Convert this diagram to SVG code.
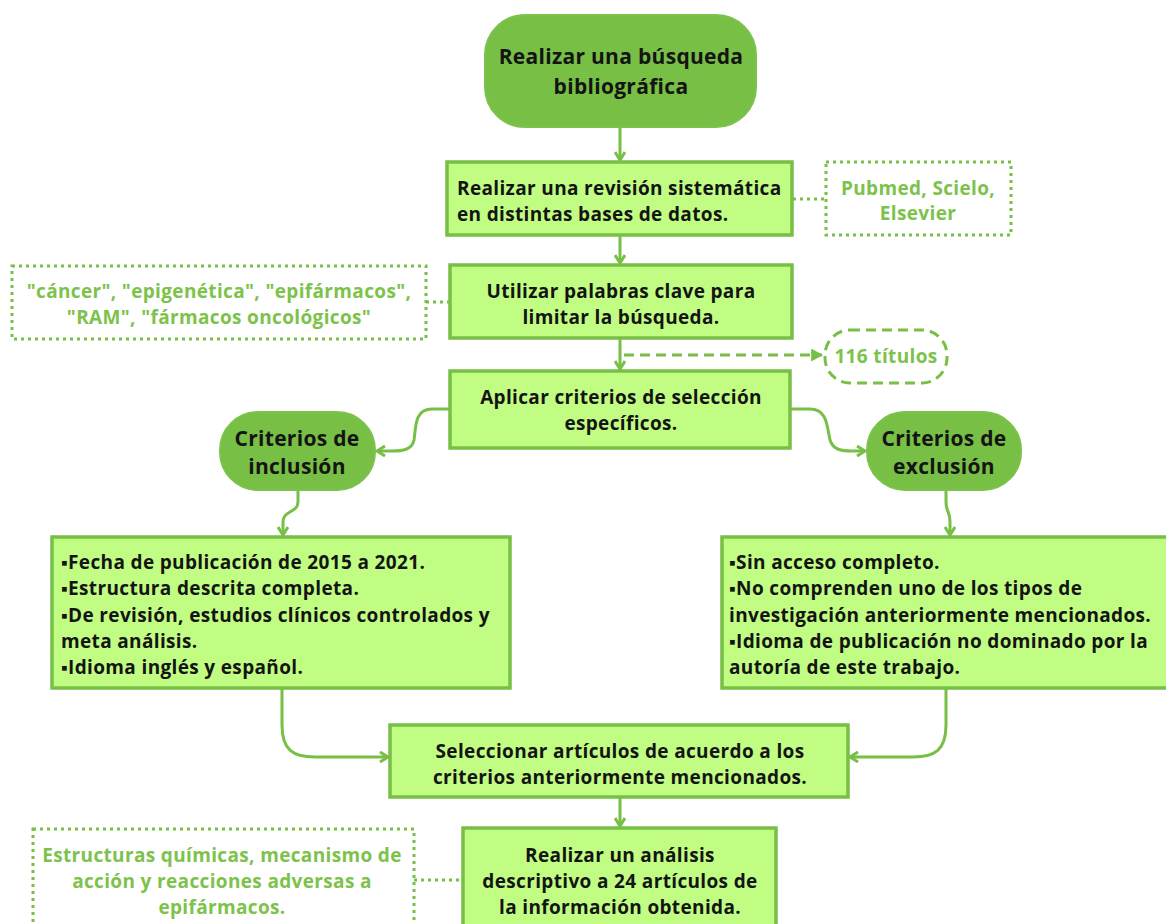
<svg xmlns="http://www.w3.org/2000/svg" width="1166" height="924" viewBox="0 0 1166 924">
<defs>
<style>
.dk{fill:#77bf45;stroke:#7cc24b;stroke-width:2}
.lt{fill:#c1fd82;stroke:#77bf45;stroke-width:3.5}
.dot{fill:#fff;stroke:#77bf45;stroke-width:3;stroke-dasharray:3 4}
.dash{fill:#fff;stroke:#77bf45;stroke-width:3;stroke-dasharray:10 6}
.t{font-family:"Open Sans","Liberation Sans",sans-serif;font-weight:700;fill:#141414;font-size:19px;letter-spacing:0.35px}
.h{font-family:"Open Sans","Liberation Sans",sans-serif;font-weight:700;fill:#141414;font-size:21px;letter-spacing:0.3px;text-anchor:middle}
.g{font-family:"Open Sans","Liberation Sans",sans-serif;font-weight:700;fill:#7cc24b;font-size:19px;letter-spacing:0.35px;text-anchor:middle}
.c{text-anchor:middle}
.ln{fill:none;stroke:#77bf45;stroke-width:3}
.ld{fill:none;stroke:#77bf45;stroke-width:3;stroke-dasharray:3 4}
.ldash{fill:none;stroke:#77bf45;stroke-width:3;stroke-dasharray:10 6}
</style>
<marker id="v" viewBox="0 0 12 12" refX="10" refY="6" markerWidth="12" markerHeight="12" markerUnits="userSpaceOnUse" orient="auto">
<path d="M2,1 L10,6 L2,11" fill="none" stroke="#77bf45" stroke-width="3"/>
</marker>
<marker id="tri" viewBox="0 0 12 12" refX="11" refY="6" markerWidth="13" markerHeight="13" markerUnits="userSpaceOnUse" orient="auto">
<path d="M1,0 L12,6 L1,12 Z" fill="#77bf45"/>
</marker>
</defs>
<rect width="1166" height="924" fill="#fff"/>

<g id="connectors">
<path class="ln" d="M620,127 L620,160" marker-end="url(#v)"/>
<path class="ln" d="M620,235 L620,263" marker-end="url(#v)"/>
<path class="ln" d="M620,338 L620,369" marker-end="url(#v)"/>
<path class="ldash" d="M624,355 L822,355" marker-end="url(#tri)"/>
<path class="ln" d="M450,409 L432,409 C414,409 416,428 414,440 C412,450 402,451 392,451 L377,451" marker-end="url(#v)"/>
<path class="ln" d="M790,409 L810,409 C828,409 827,428 830,440 C833,450 842,451 852,451 L865,451" marker-end="url(#v)"/>
<path class="ln" d="M298,490 L298,502 C298,513 283,510 283,522 L283,535" marker-end="url(#v)"/>
<path class="ln" d="M946,490 L946,502 C946,513 950,510 950,522 L950,535" marker-end="url(#v)"/>
<path class="ln" d="M282,688 L282,725 C282,750 293,757 315,757 L388,757" marker-end="url(#v)"/>
<path class="ln" d="M946,688 L946,725 C946,750 935,757 913,757 L850,757" marker-end="url(#v)"/>
<path class="ln" d="M620,797 L620,826" marker-end="url(#v)"/>
<path class="ld" d="M793,199 L826,199"/>
<path class="ld" d="M426,302 L449,302"/>
<path class="ld" d="M414,880 L463,880"/>
</g>

<g id="n-busqueda">
<rect class="dk" x="485" y="15" width="271" height="112" rx="40"/>
<text class="h" x="621" y="64">Realizar una búsqueda</text>
<text class="h" x="621" y="94">bibliográfica</text>
</g>

<g id="n-revision">
<rect class="lt" x="447" y="162" width="345" height="73"/>
<text class="t" x="457" y="195">Realizar una revisión sistemática</text>
<text class="t" x="457" y="221">en distintas bases de datos.</text>
</g>

<g id="n-bases">
<rect class="dot" x="826" y="162" width="185" height="73"/>
<text class="g" x="918" y="195">Pubmed, Scielo,</text>
<text class="g" x="918" y="220">Elsevier</text>
</g>

<g id="n-palabras">
<rect class="lt" x="450" y="265" width="342" height="73"/>
<text class="t c" x="621" y="298">Utilizar palabras clave para</text>
<text class="t c" x="621" y="324">limitar la búsqueda.</text>
</g>

<g id="n-keywords">
<rect class="dot" x="12" y="266" width="414" height="73"/>
<text class="g" x="219" y="298">"cáncer", "epigenética", "epifármacos",</text>
<text class="g" x="219" y="324">"RAM", "fármacos oncológicos"</text>
</g>

<g id="n-titulos">
<rect class="dash" x="825" y="330" width="122" height="53" rx="25"/>
<text class="g" x="886" y="363">116 títulos</text>
</g>

<g id="n-aplicar">
<rect class="lt" x="450" y="371" width="340" height="77"/>
<text class="t c" x="621" y="404">Aplicar criterios de selección</text>
<text class="t c" x="621" y="430">específicos.</text>
</g>

<g id="n-inclusion">
<rect class="dk" x="220" y="412" width="155" height="78" rx="38"/>
<text class="h" x="297" y="446">Criterios de</text>
<text class="h" x="297" y="474">inclusión</text>
</g>

<g id="n-exclusion">
<rect class="dk" x="867" y="412" width="154" height="78" rx="38"/>
<text class="h" x="944" y="446">Criterios de</text>
<text class="h" x="944" y="474">exclusión</text>
</g>

<g id="n-incl-list">
<rect class="lt" x="52" y="537" width="458" height="151"/>
<text class="t" x="61" y="569">▪Fecha de publicación de 2015 a 2021.</text>
<text class="t" x="61" y="595">▪Estructura descrita completa.</text>
<text class="t" x="61" y="622">▪De revisión, estudios clínicos controlados y</text>
<text class="t" x="61" y="648">meta análisis.</text>
<text class="t" x="61" y="674">▪Idioma inglés y español.</text>
</g>

<g id="n-excl-list">
<rect class="lt" x="722" y="537" width="450" height="151"/>
<text class="t" x="729" y="569">▪Sin acceso completo.</text>
<text class="t" x="729" y="595">▪No comprenden uno de los tipos de</text>
<text class="t" x="729" y="622">investigación anteriormente mencionados.</text>
<text class="t" x="729" y="648">▪Idioma de publicación no dominado por la</text>
<text class="t" x="729" y="674">autoría de este trabajo.</text>
</g>

<g id="n-seleccionar">
<rect class="lt" x="390" y="725" width="458" height="72"/>
<text class="t c" x="620" y="758">Seleccionar artículos de acuerdo a los</text>
<text class="t c" x="620" y="784">criterios anteriormente mencionados.</text>
</g>

<g id="n-analisis">
<rect class="lt" x="463" y="828" width="313" height="110"/>
<text class="t c" x="620" y="862">Realizar un análisis</text>
<text class="t c" x="620" y="888">descriptivo a 24 artículos de</text>
<text class="t c" x="620" y="914">la información obtenida.</text>
</g>

<g id="n-estructuras">
<rect class="dot" x="33" y="829" width="381" height="110"/>
<text class="g" x="222" y="862">Estructuras químicas, mecanismo de</text>
<text class="g" x="222" y="888">acción y reacciones adversas a</text>
<text class="g" x="222" y="914">epifármacos.</text>
</g>
</svg>
